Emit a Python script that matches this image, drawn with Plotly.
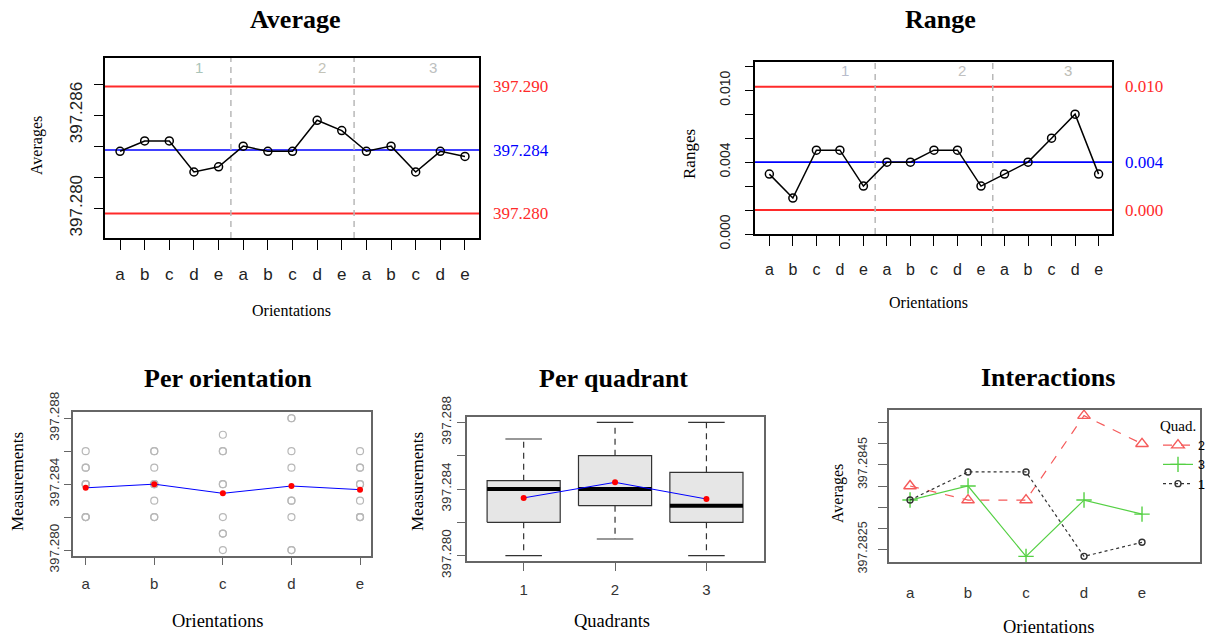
import numpy as np
import plotly.graph_objects as go

# ---------------- data ----------------
orientations = ["a", "b", "c", "d", "e"]
quadrants = ["1", "2", "3"]

# raw measurements: for each quadrant, 3 readings per orientation a..e
q1_meas = [[397.282, 397.284, 397.285], [397.284, 397.284, 397.285], [397.282, 397.284, 397.287],
           [397.280, 397.282, 397.285], [397.282, 397.282, 397.284]]
q2_meas = [[397.282, 397.284, 397.286], [397.282, 397.283, 397.286], [397.281, 397.284, 397.286],
           [397.283, 397.286, 397.288], [397.284, 397.285, 397.286]]
q3_meas = [[397.282, 397.284, 397.285], [397.282, 397.284, 397.286], [397.280, 397.281, 397.286],
           [397.280, 397.283, 397.288], [397.282, 397.283, 397.285]]

avg_limits = [397.28785, 397.28375, 397.27966]       # UCL, CL, LCL (Average chart)
avg_limit_labels = ["397.290", "397.284", "397.280"]
range_limits = [0.01030, 0.00400, 0.0]                  # UCL, CL, LCL (Range chart)
range_limit_labels = ["0.010", "0.004", "0.000"]
quad_label_pos = [4.2, 9.2, 13.7]

avg_ticks = [397.280, 397.282, 397.284, 397.286, 397.288]
avg_ticktext = ["397.280", "", "", "397.286", ""]
range_ticks = [-0.002, 0.0, 0.002, 0.004, 0.006, 0.008, 0.010, 0.012]
range_ticktext = ["0.000", "", "", "0.004", "", "", "0.010", ""]
meas_ticks = [397.280, 397.282, 397.284, 397.286, 397.288]
meas_ticktext = ["397.280", "", "397.284", "", "397.288"]
inter_ticks = [397.2825, 397.2830, 397.2835, 397.2840, 397.2845, 397.2850, 397.2855]
inter_ticktext = ["397.2825", "", "", "", "397.2845", "", ""]

# ---------------- derived ----------------
meas = [np.array(q1_meas), np.array(q2_meas), np.array(q3_meas)]
sub_means = [m.mean(axis=1) for m in meas]
sub_ranges = [m.max(axis=1) - m.min(axis=1) for m in meas]
seq_means = np.concatenate(sub_means)
seq_ranges = np.concatenate(sub_ranges)
n_o = len(orientations)
seq_idx = list(range(1, n_o * len(quadrants) + 1))
seq_labels = orientations * len(quadrants)
separators = [k * n_o + 0.5 for k in range(1, len(quadrants))]

W, H = 1206, 638
def dx(a, b):
    return [a / W, b / W]
def dy(top, bottom):
    return [1 - bottom / H, 1 - top / H]
def px(x):
    return x / W
def py(y):
    return 1 - y / H

SANS = "Liberation Sans, Arial, sans-serif"
SERIF = "Liberation Serif, Times New Roman, serif"
RED = "#ff2a2a"
BLUE = "#0000ff"

fig = go.Figure()

# Average chart
fig.add_trace(go.Scatter(x=seq_idx, y=seq_means, mode="lines+markers", xaxis="x", yaxis="y",
                         line=dict(color="black", width=1.5),
                         marker=dict(symbol="circle-open", size=8, color="black", line=dict(width=1.5)),
                         showlegend=False))
# Range chart
fig.add_trace(go.Scatter(x=seq_idx, y=seq_ranges, mode="lines+markers", xaxis="x2", yaxis="y2",
                         line=dict(color="black", width=1.5),
                         marker=dict(symbol="circle-open", size=8, color="black", line=dict(width=1.5)),
                         showlegend=False))

# Per orientation
pts_x, pts_y = [], []
for m in meas:
    for oi in range(n_o):
        for v in m[oi]:
            pts_x.append(oi + 1)
            pts_y.append(v)
fig.add_trace(go.Scatter(x=pts_x, y=pts_y, mode="markers", xaxis="x3", yaxis="y3",
                         marker=dict(symbol="circle-open", size=7, color="#b8b8b8", line=dict(width=1.2)),
                         showlegend=False))
ori_means = np.concatenate(meas, axis=1).mean(axis=1)
fig.add_trace(go.Scatter(x=list(range(1, n_o + 1)), y=ori_means, mode="lines+markers", xaxis="x3", yaxis="y3",
                         line=dict(color=BLUE, width=1), marker=dict(color="red", size=6),
                         showlegend=False))

# Per quadrant (boxplot, Tukey five-number summary)
def fivenum(v):
    s = np.sort(np.asarray(v)); n = len(s)
    n4 = np.floor((n + 3) / 2) / 2
    d = np.array([1, n4, (n + 1) / 2, n + 1 - n4, n]) - 1
    return 0.5 * (s[np.floor(d).astype(int)] + s[np.ceil(d).astype(int)])

bw, sw = 0.4, 0.2
quad_means = []
for qi, m in enumerate(meas):
    vals = m.flatten()
    f = fivenum(vals)
    iqr = f[3] - f[1]
    lo = vals[vals >= f[1] - 1.5 * iqr - 1e-12].min()
    hi = vals[vals <= f[3] + 1.5 * iqr + 1e-12].max()
    c = qi + 1
    quad_means.append(vals.mean())
    fig.add_trace(go.Scatter(x=[c - bw, c + bw, c + bw, c - bw, c - bw], y=[f[1], f[1], f[3], f[3], f[1]],
                             mode="lines", fill="toself", fillcolor="#e6e6e6",
                             line=dict(color="#333333", width=1.2), xaxis="x4", yaxis="y4", showlegend=False))
    for a, b in [(f[3], hi), (f[1], lo)]:
        fig.add_trace(go.Scatter(x=[c, c], y=[a, b], mode="lines", line=dict(color="#333333", width=1.2, dash="6px,5px"),
                                 xaxis="x4", yaxis="y4", showlegend=False))
        fig.add_trace(go.Scatter(x=[c - sw, c + sw], y=[b, b], mode="lines", line=dict(color="#333333", width=1.2),
                                 xaxis="x4", yaxis="y4", showlegend=False))
    fig.add_trace(go.Scatter(x=[c - bw, c + bw], y=[f[2], f[2]], mode="lines", line=dict(color="black", width=4),
                             xaxis="x4", yaxis="y4", showlegend=False))
fig.add_trace(go.Scatter(x=[1, 2, 3], y=quad_means, mode="lines+markers", xaxis="x4", yaxis="y4",
                         line=dict(color=BLUE, width=1), marker=dict(color="red", size=6), showlegend=False))

# Interactions
inter_styles = {
    "2": dict(color="#f55a5a", dash="dash", symbol="triangle-up-open", size=11, lw=1.2),
    "3": dict(color="#55d044", dash="solid", symbol="cross-thin-open", size=11, lw=1.2),
    "1": dict(color="#333333", dash="dot", symbol="circle-open", size=6, lw=1.2),
}
order = np.argsort([-sm[-1] for sm in sub_means])
for rank, qi in enumerate(order):
    q = quadrants[qi]
    st = inter_styles[q]
    fig.add_trace(go.Scatter(x=list(range(1, n_o + 1)), y=sub_means[qi], mode="lines+markers", name=q,
                             xaxis="x5", yaxis="y5", legendrank=rank + 1,
                             line=dict(color=st["color"], width=st["lw"], dash=st["dash"]),
                             marker=dict(symbol=st["symbol"], size=st["size"], color=st["color"],
                                         line=dict(width=1.4, color=st["color"]))))

# ---------------- axes ----------------
def ax(color="black", lw=1.5, tl=9, ts=17, tcol="#222", **kw):
    d = dict(showline=True, linecolor=color, linewidth=lw, mirror=True, ticks="outside", tickcolor=color,
             ticklen=tl, tickwidth=1.3, showgrid=False, zeroline=False,
             tickfont=dict(family=SANS, size=ts, color=tcol))
    d.update(kw)
    return d

layout_axes = dict(
    xaxis=ax(domain=dx(105, 479), range=[0.39, 15.57], anchor="y", tickvals=seq_idx, ticktext=seq_labels,
             ticklen=10, ticklabelstandoff=10),
    yaxis=ax(domain=dy(58, 238), range=[397.27808, 397.28968], anchor="x", tickvals=avg_ticks,
             ticktext=avg_ticktext, tickangle=-90, ticklabelstandoff=5),
    xaxis2=ax(domain=dx(755, 1112), range=[0.39, 15.57], anchor="y2", tickvals=seq_idx, ticktext=seq_labels,
              ticklen=10, ticklabelstandoff=10, tickfont=dict(family=SANS, size=16, color="#222")),
    yaxis2=ax(domain=dy(62, 234), range=[-0.002, 0.01236], anchor="x2", tickvals=range_ticks,
              ticktext=range_ticktext, tickangle=-90, ticklabelstandoff=10, ticklen=8,
              tickfont=dict(family=SANS, size=14, color="#222")),
    xaxis3=ax(color="#666", tl=7, domain=dx(73, 371), range=[0.815, 5.16], anchor="y3",
              tickvals=list(range(1, n_o + 1)), ticktext=orientations, ticklabelstandoff=6,
              tickfont=dict(family=SANS, size=15, color="#333")),
    yaxis3=ax(color="#666", tl=7, domain=dy(412, 556), range=[397.27964, 397.28838], anchor="x3",
              tickvals=meas_ticks, ticktext=meas_ticktext, tickangle=-90, ticklabelstandoff=0,
              tickfont=dict(family=SANS, size=13.5, color="#333")),
    xaxis4=ax(color="#666", tl=8, domain=dx(467, 764), range=[0.38, 3.63], anchor="y4",
              tickvals=[1, 2, 3], ticktext=quadrants, ticklabelstandoff=6,
              tickfont=dict(family=SANS, size=15, color="#333")),
    yaxis4=ax(color="#666", tl=8, domain=dy(417, 561), range=[397.27968, 397.28832], anchor="x4",
              tickvals=meas_ticks, ticktext=meas_ticktext, tickangle=-90, ticklabelstandoff=1,
              tickfont=dict(family=SANS, size=13.5, color="#333")),
    xaxis5=ax(color="#666", tl=0, domain=dx(889, 1200), range=[0.637, 6.0], anchor="y5",
              tickvals=list(range(1, n_o + 1)), ticktext=orientations, ticks="", ticklabelstandoff=16,
              tickfont=dict(family=SANS, size=15, color="#333")),
    yaxis5=ax(color="#666", tl=9, domain=dy(410, 562), range=[397.2822, 397.2858], anchor="x5",
              tickvals=inter_ticks, ticktext=inter_ticktext, tickangle=-90, ticklabelstandoff=6,
              tickfont=dict(family=SANS, size=12.5, color="#333")),
)

# ---------------- shapes ----------------
shapes = []
for (xa, ya, lims) in [("x", "y", avg_limits), ("x2", "y2", range_limits)]:
    for v, col in zip(lims, [RED, BLUE, RED]):
        shapes.append(dict(type="line", xref=xa + " domain", yref=ya, x0=0, x1=1, y0=v, y1=v,
                           line=dict(color=col, width=2 if col == RED else 1.6), layer="below"))
    for s in separators:
        shapes.append(dict(type="line", xref=xa, yref=ya + " domain", x0=s, x1=s, y0=0, y1=1,
                           line=dict(color="#b8b8b8", width=1.5, dash="6px,5px"), layer="below"))

# ---------------- annotations ----------------
ann = []
def text(x, y, s, size, family=SERIF, color="black", angle=0, xanchor="center", yanchor="middle",
         xref="paper", yref="paper"):
    ann.append(dict(x=x, y=y, xref=xref, yref=yref, text=s, showarrow=False, textangle=angle,
                    xanchor=xanchor, yanchor=yanchor, font=dict(family=family, size=size, color=color)))

for title, x, y in [("Average", 295, 20), ("Range", 940, 20), ("Per orientation", 228, 378),
                    ("Per quadrant", 613, 378), ("Interactions", 1048, 377)]:
    text(px(x), py(y), "<b>" + title + "</b>", 26)

text(px(291), py(311), "Orientations", 16)
text(px(928), py(302), "Orientations", 16)
text(px(217), py(621), "Orientations", 18.5)
text(px(612), py(621), "Quadrants", 18.5)
text(px(1048), py(627), "Orientations", 18.5)
text(px(37), py(146), "Averages", 16, angle=-90)
text(px(689), py(154), "Ranges", 17, angle=-90)
text(px(18), py(482), "Measurements", 17, angle=-90)
text(px(418), py(482), "Measurements", 17, angle=-90)
text(px(838), py(493), "Averages", 16, angle=-90)

for v, lab, col in zip(avg_limits, avg_limit_labels, [RED, BLUE, RED]):
    text(px(491), v, lab, 17, color=col, xanchor="left", yref="y")
for v, lab, col in zip(range_limits, range_limit_labels, [RED, BLUE, RED]):
    text(px(1123), v, lab, 17, color=col, xanchor="left", yref="y2")

quad_cols_avg = ["#a9c4b9", "#c3c3b8", "#bcc0c0"]
quad_cols_rng = ["#b8bccc", "#c0c0c0", "#bdbdb6"]
for pos, q, c1, c2 in zip(quad_label_pos, quadrants, quad_cols_avg, quad_cols_rng):
    text(pos, 0.95, q, 15, family=SANS, color=c1, xref="x", yref="y domain")
    text(pos, 0.952, q, 15, family=SANS, color=c2, xref="x2", yref="y2 domain")

fig.update_layout(
    width=W, height=H, autosize=False,
    margin=dict(l=0, r=0, t=0, b=0, pad=0, autoexpand=False),
    paper_bgcolor="white", plot_bgcolor="white",
    shapes=shapes, annotations=ann,
    legend=dict(x=px(1158), y=py(411), xanchor="left", yanchor="top", bgcolor="rgba(0,0,0,0)",
                title=dict(text="Quad.", font=dict(family=SERIF, size=15, color="black")),
                font=dict(family=SANS, size=12.5, color="black"), itemwidth=30, tracegroupgap=0),
    **layout_axes,
)

fig.write_html("out.html", config={"displayModeBar": False},
               post_script="document.body.style.margin='0';document.body.style.overflow='hidden';")
